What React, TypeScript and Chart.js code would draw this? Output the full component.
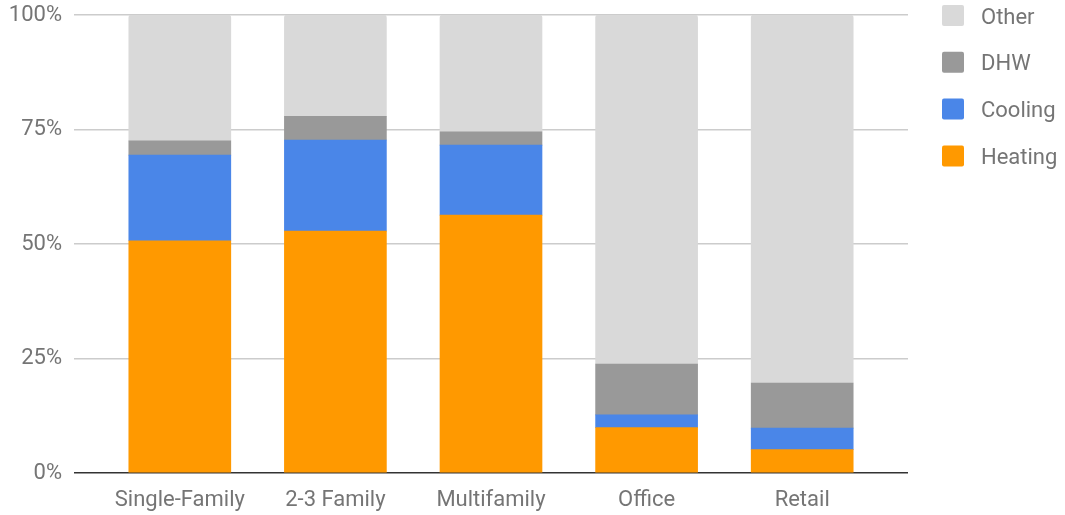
import React, { useEffect, useRef } from "react";
import { Chart, registerables } from "chart.js";

Chart.register(...registerables);

const categories = ["Single-Family", "2-3 Family", "Multifamily", "Office", "Retail"];
const seriesNames = ["Heating", "Cooling", "DHW", "Other"];
const heating = [50.7, 52.8, 56.3, 9.9, 5.1];
const cooling = [18.7, 19.9, 15.3, 2.8, 4.7];
const dhw = [3.1, 5.2, 2.9, 11.1, 9.85];
const other = [27.5, 22.1, 25.5, 76.2, 80.35];
const yTicks = [0, 25, 50, 75, 100];
const colors = ["#ff9900", "#4a86e8", "#999999", "#d9d9d9"];

const FONT = "Roboto";
const TEXT = "#757575";
const SIZE = 22;

const legendPlugin = {
  id: "customRightLegend",
  afterDraw(chart: any) {
    const ctx = chart.ctx;
    const ds = chart.data.datasets;
    ctx.save();
    ctx.font = `${SIZE}px ${FONT}`;
    ctx.textAlign = "left";
    ctx.textBaseline = "alphabetic";
    const order = ds.map((_: any, i: number) => i).reverse();
    order.forEach((di: number, r: number) => {
      const cy = 15.5 + r * 46.8;
      ctx.fillStyle = ds[di].backgroundColor;
      ctx.beginPath();
      (ctx as any).roundRect(942, cy - 10.5, 22, 21, 2);
      ctx.fill();
      ctx.fillStyle = TEXT;
      ctx.fillText(ds[di].label, 981, cy + 8);
    });
    ctx.restore();
  },
};

export default function App() {
  const ref = useRef<HTMLCanvasElement | null>(null);
  useEffect(() => {
    if (!ref.current) return;
    const series = [heating, cooling, dhw, other];
    const chart = new Chart(ref.current, {
      type: "bar",
      data: {
        datasets: series.map((vals, si) => ({
          label: seriesNames[si],
          data: vals.map((v, i) => ({ x: i, y: v })),
          backgroundColor: colors[si],
          borderWidth: 0,
          borderRadius: si === 3 ? { topLeft: 3, topRight: 3, bottomLeft: 0, bottomRight: 0 } : 0,
          borderSkipped: false,
          barThickness: 102,
        })),
      },
      options: {
        animation: false,
        responsive: false,
        layout: { padding: { top: 15, right: 157, left: 0, bottom: 0 } },
        plugins: { legend: { display: false }, tooltip: { enabled: false } },
        scales: {
          x: {
            type: "linear",
            stacked: true,
            offset: false,
            min: -0.68,
            max: 4.68,
            afterBuildTicks: (axis: any) => {
              axis.ticks = categories.map((_, i) => ({ value: i }));
            },
            afterFit: (axis: any) => {
              axis.height = 42;
              axis.paddingLeft = 0;
              axis.paddingRight = 0;
            },
            grid: { display: false, drawTicks: false },
            border: { display: false },
            ticks: {
              autoSkip: false,
              maxRotation: 0,
              padding: 14,
              color: TEXT,
              font: { family: FONT, size: SIZE },
              callback: (v: any) => categories[Math.round(Number(v))] ?? "",
            },
          },
          y: {
            stacked: true,
            min: 0,
            max: 100,
            afterBuildTicks: (axis: any) => {
              axis.ticks = yTicks.map((v) => ({ value: v }));
            },
            afterFit: (axis: any) => {
              axis.width = 74;
              axis.paddingTop = 0;
              axis.paddingBottom = 0;
            },
            grid: {
              drawTicks: false,
              color: (c: any) => (c.tick && c.tick.value === 0 ? "#333333" : "#cccccc"),
              lineWidth: 1.5,
            },
            border: { display: false },
            ticks: {
              padding: 12,
              color: TEXT,
              font: { family: FONT, size: SIZE },
              callback: (v: any) => `${v}%`,
            },
          },
        },
      },
      plugins: [legendPlugin],
    } as any);
    return () => chart.destroy();
  }, []);
  return (
    <div style={{ position: "absolute", left: 0, top: 0, width: 1065, height: 515, background: "#fff" }}>
      <canvas ref={ref} width={1065} height={515} style={{ display: "block" }} />
    </div>
  );
}
